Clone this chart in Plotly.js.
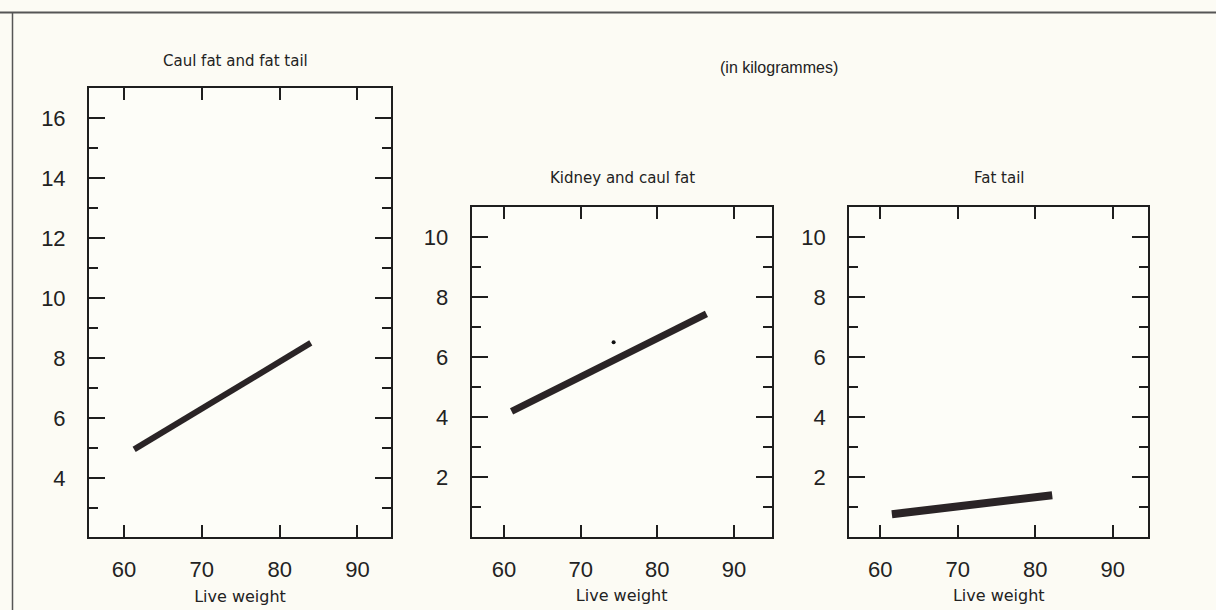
<!DOCTYPE html>
<html>
<head>
<meta charset="utf-8">
<script src="https://cdn.plot.ly/plotly-3.0.1.min.js"></script>
<style>html,body{margin:0;padding:0;background:#fcfbf4;}#chart{width:1216px;height:610px;}</style>
</head>
<body>
<div id="chart"></div>
<script>
// Data
const panelTitles = ["Caul fat and fat tail", "Kidney and caul fat", "Fat tail"];
const unitNote = "(in kilogrammes)";
const xLabel = "Live weight";

const caulTailX = [61.3, 84.0];
const caulTailY = [4.95, 8.5];

const kidneyCaulX = [61.0, 86.4];
const kidneyCaulY = [4.2, 7.45];

const fatTailX = [61.5, 82.2];
const fatTailY = [0.77, 1.4];

const speckX = [74.3];
const speckY = [6.5];

const lineColor = "#2a2426";
const axisColor = "#1e1e1e";
const font = "Liberation Sans, Arial, sans-serif";
const titleFont = "DejaVu Sans, sans-serif";

const traces = [
  {x: caulTailX, y: caulTailY, xaxis: "x", yaxis: "y", mode: "lines",
   line: {color: lineColor, width: 6}, hoverinfo: "x+y"},
  {x: kidneyCaulX, y: kidneyCaulY, xaxis: "x2", yaxis: "y2", mode: "lines",
   line: {color: lineColor, width: 7}, hoverinfo: "x+y"},
  {x: speckX, y: speckY, xaxis: "x2", yaxis: "y2", mode: "markers",
   marker: {color: "#111", size: 4}, hoverinfo: "skip"},
  {x: fatTailX, y: fatTailY, xaxis: "x3", yaxis: "y3", mode: "lines",
   line: {color: lineColor, width: 8}, hoverinfo: "x+y"}
];

function xa(domain, range, anchor) {
  return {
    domain: domain, range: range, anchor: anchor,
    tick0: 0, dtick: 10, ticks: "inside", ticklen: 12, tickwidth: 2, tickcolor: axisColor,
    showline: true, linewidth: 2, linecolor: axisColor, mirror: "ticks",
    showgrid: false, zeroline: false,
    tickfont: {family: font, size: 22, color: "#222"},
    ticklabelstandoff: 12,
    title: {text: xLabel, font: {family: titleFont, size: 16, color: "#222"}, standoff: 9}
  };
}
function ya(domain, range, anchor) {
  return {
    domain: domain, range: range, anchor: anchor,
    tick0: 0, dtick: 2, ticks: "inside", ticklen: 16, tickwidth: 2, tickcolor: axisColor,
    minor: {ticks: "inside", ticklen: 9, tickwidth: 2, tickcolor: axisColor, dtick: 1, tick0: 0, showgrid: false},
    showline: true, linewidth: 2, linecolor: axisColor, mirror: "ticks",
    showgrid: false, zeroline: false,
    tickfont: {family: font, size: 22, color: "#222"},
    ticklabelstandoff: 17
  };
}

function ann(text, px, py, fam, size) {
  return {text: text, xref: "paper", yref: "paper", x: px / 1216, y: 1 - py / 610,
          xanchor: "center", yanchor: "middle", showarrow: false,
          font: {family: fam, size: size, color: "#222"}};
}

const layout = {
  width: 1216, height: 610,
  margin: {l: 0, r: 0, t: 0, b: 0},
  paper_bgcolor: "#fcfbf4", plot_bgcolor: "#fdfdf8",
  showlegend: false,
  xaxis: xa([0.0732, 0.3215], [55.5, 94.3], "y"),
  yaxis: ya([0.1197, 0.8557], [2.03, 17], "x"),
  xaxis2: xa([0.3879, 0.6346], [55.8, 94.9], "y2"),
  yaxis2: ya([0.1202, 0.6602], [0.02, 11], "x2"),
  xaxis3: xa([0.6984, 0.9443], [56.0, 94.6], "y3"),
  yaxis3: ya([0.1202, 0.6602], [0.02, 11], "x3"),
  annotations: [
    ann(panelTitles[0], 235, 61, titleFont, 15),
    ann(unitNote, 779, 68, font, 16),
    ann(panelTitles[1], 622, 178, titleFont, 15),
    ann(panelTitles[2], 1000, 178, titleFont, 15)
  ],
  shapes: [
    {type: "line", xref: "paper", yref: "paper", x0: 0, x1: 1, y0: 1 - 12.5/610, y1: 1 - 12.5/610,
     line: {color: "#555", width: 2}},
    {type: "line", xref: "paper", yref: "paper", x0: 12.5/1216, x1: 12.5/1216, y0: 0, y1: 1 - 12.5/610,
     line: {color: "#555", width: 1.5}}
  ]
};

Plotly.newPlot("chart", traces, layout, {displayModeBar: false, staticPlot: true});
</script>
</body>
</html>
